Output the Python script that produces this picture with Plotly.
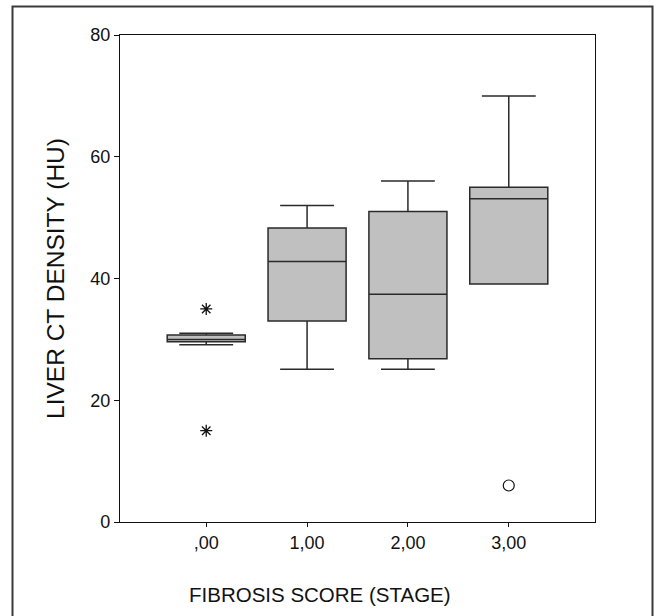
import plotly.graph_objects as go

# ---- data ----
stages = [0, 1, 2, 3]
stage_labels = [",00", "1,00", "2,00", "3,00"]
q1 = [29.6, 33.0, 26.8, 39.1]
median = [30.0, 42.8, 37.4, 53.1]
q3 = [30.7, 48.3, 51.0, 55.0]
lower_whisker = [29.1, 25.1, 25.1, 39.1]
upper_whisker = [31.0, 52.0, 56.0, 70.0]
extreme_x = [0, 0]
extreme_y = [35, 15]
outlier_x = [3]
outlier_y = [6]
y_ticks = [0, 20, 40, 60, 80]

FONT = "Liberation Sans, Arial, sans-serif"

fig = go.Figure()
fig.add_trace(go.Box(
    x=stages, q1=q1, median=median, q3=q3,
    lowerfence=lower_whisker, upperfence=upper_whisker,
    boxpoints=False, width=0.774, whiskerwidth=0.69,
    fillcolor="#c0c0c0", line=dict(color="#2a2a2a", width=1.5),
    showlegend=False, hoverinfo="skip",
))
fig.add_trace(go.Scatter(
    x=extreme_x, y=extreme_y, mode="markers",
    marker=dict(symbol="asterisk-open", size=10, color="#111",
                line=dict(color="#111", width=1.3)),
    showlegend=False,
))
fig.add_trace(go.Scatter(
    x=outlier_x, y=outlier_y, mode="markers",
    marker=dict(symbol="circle-open", size=11, color="#111",
                line=dict(color="#111", width=1.2)),
    showlegend=False,
))

L, R, T, B = 120, 63, 35, 94
W, H = 658, 616
pw, ph = W - L - R, H - T - B

def px_x(p):
    return (p - L) / pw

def px_y(p):
    return (H - B - p) / ph

fig.add_shape(type="rect", xref="paper", yref="paper",
              x0=px_x(12.5), x1=px_x(652.5), y0=px_y(640), y1=px_y(6.5),
              line=dict(color="#3a3a3a", width=2), fillcolor="rgba(0,0,0,0)",
              layer="below")

fig.add_annotation(text="FIBROSIS SCORE (STAGE)", xref="paper", yref="paper",
                   x=px_x(320), y=px_y(594), xanchor="center", yanchor="middle",
                   showarrow=False, font=dict(size=20.5, family=FONT, color="#111"))

fig.update_layout(
    width=W, height=H,
    margin=dict(l=L, r=R, t=T, b=B),
    paper_bgcolor="white", plot_bgcolor="white",
    font=dict(family=FONT, color="#111", size=18),
    xaxis=dict(
        range=[-0.855, 3.855], tickmode="array", tickvals=stages,
        ticktext=stage_labels, ticks="outside", ticklen=4, tickcolor="#111",
        showline=True, linecolor="#111", linewidth=1.2, mirror=True,
        showgrid=False, zeroline=False,
        tickfont=dict(size=18),
    ),
    yaxis=dict(
        range=[0, 80], tickmode="array", tickvals=y_ticks,
        ticks="outside", ticklen=5, tickcolor="#111",
        showline=True, linecolor="#111", linewidth=1.2, mirror=True,
        showgrid=False, zeroline=False,
        tickfont=dict(size=18),
        title=dict(text="LIVER CT DENSITY (HU)", font=dict(size=24.5), standoff=18),
    ),
)

fig.write_html("out.html")
